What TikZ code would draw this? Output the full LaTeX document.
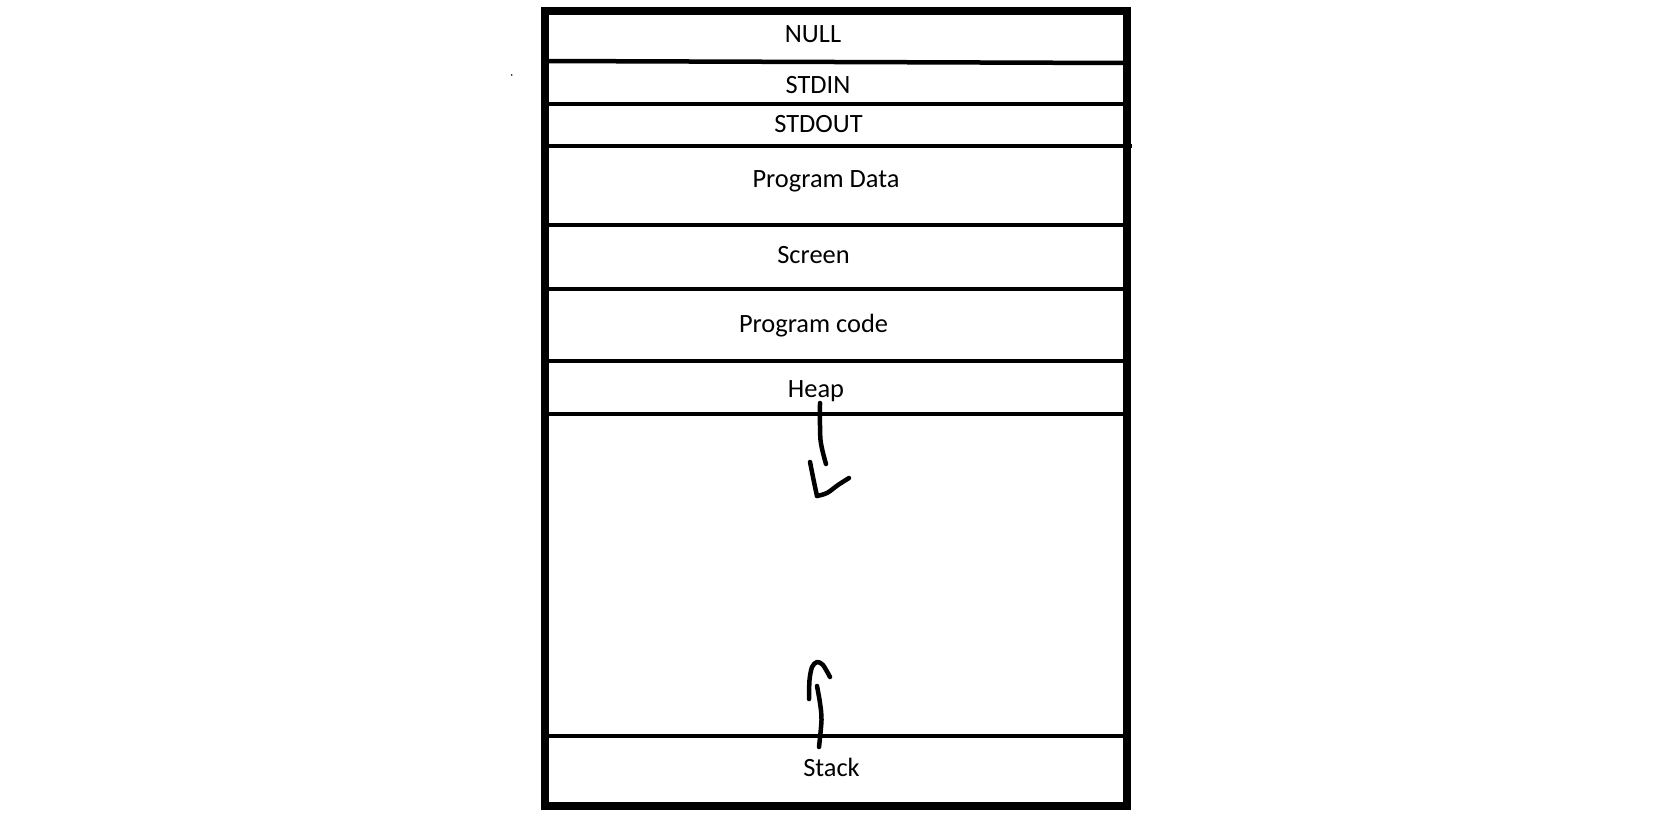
\documentclass[tikz,border=0pt]{standalone}
\usepackage{fontspec}
\setmainfont{Carlito}
\begin{document}
\begin{tikzpicture}[x=0.5pt,y=-0.5pt,
    wall/.style={line width=4pt},
    divider/.style={line width=2.25pt},
    stroke/.style={line width=2.25pt,line cap=round,line join=round},
    label/.style={anchor=base,inner sep=0pt,font=\fontsize{13.2}{16}\selectfont}]
    \useasboundingbox (0,0) rectangle (1657,820);

    \draw[divider] (545,61) to (1127,63);
    \foreach \y in {104,225,289,361,414,736} {
        \draw[divider] (545,\y) to (1127,\y);
    }
    \draw[divider] (545,146) to (1132,146);
    \draw[wall] (545,11) rectangle (1127,806);
    \fill (511.7,75) circle (0.9);

    \node[label] (null) at (813,42) {NULL};
    \node[label] (stdin) at (818,93) {STDIN};
    \node[label] (stdout) at (818.5,132) {STDOUT};
    \node[label] (data) at (826,187) {Program Data};
    \node[label] (screen) at (813.5,263) {Screen};
    \node[label] (code) at (813.5,332) {Program code};
    \node[label] (heap) at (816,397) {Heap};
    \node[label] (stack) at (831.5,776) {Stack};

    \draw[stroke] plot[smooth] coordinates {(820,403) (820.5,440) (826,464)};
    \draw[stroke] plot[smooth] coordinates {(810,462) (814,482) (817,496)};
    \draw[stroke] plot[smooth] coordinates {(817,496) (827,493) (838,485) (849,478)};

    \draw[stroke] plot[smooth] coordinates {(819,747) (821.5,720) (820,703) (817,686)};
    \draw[stroke] plot[smooth] coordinates {(809,699) (809.5,680) (812,667) (817,662) (823,665) (830,677)};
\end{tikzpicture}
\end{document}
